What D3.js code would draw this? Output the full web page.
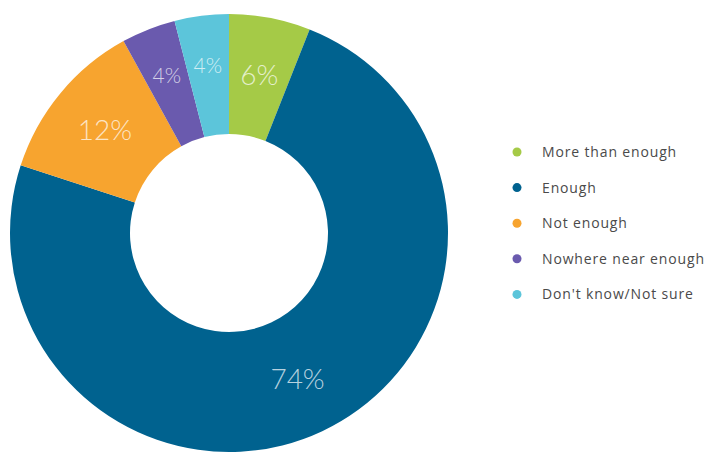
<!DOCTYPE html>
<html>
<head>
<meta charset="utf-8">
<script src="https://cdn.jsdelivr.net/npm/d3@7"></script>
<style>
  html, body { margin: 0; padding: 0; background: #ffffff; }
  svg { display: block; }
</style>
</head>
<body>
<svg id="chart" width="708" height="455"></svg>
<script>
// Survey answers, in drawing order starting from 12 o'clock, clockwise
const categories = ["More than enough", "Enough", "Not enough", "Nowhere near enough", "Don't know/Not sure"];
const shares = [6, 74, 12, 4, 4];
const sliceColors = ["#a5ca47", "#00628f", "#f7a42f", "#6a5aae", "#5cc5da"];

const svg = d3.select("#chart");
const cx = 229, cy = 233;
const outerR = 219, innerR = 99;

const pie = d3.pie().sort(null).value(d => d.value);
const arcs = pie(categories.map((c, i) => ({ name: c, value: shares[i], color: sliceColors[i] })));

const arc = d3.arc().innerRadius(innerR).outerRadius(outerR);
const g = svg.append("g").attr("transform", `translate(${cx},${cy})`);

g.selectAll("path.slice")
  .data(arcs)
  .join("path")
  .attr("class", "slice")
  .attr("d", arc)
  .attr("fill", d => d.data.color);

// Percentage labels sit at the middle of each ring segment; the narrow slices
// get a smaller type size and sit a little further out
const labelArc = d3.arc().innerRadius(innerR + 2).outerRadius(outerR + 2);
const narrowArc = d3.arc().innerRadius(innerR + 10).outerRadius(outerR + 10);
g.selectAll("text.pct")
  .data(arcs)
  .join("text")
  .attr("class", "pct")
  .attr("transform", d => {
    const p = (d.data.value < 5 ? narrowArc : labelArc).centroid(d);
    return `translate(${p[0]},${p[1]})`;
  })
  .attr("text-anchor", "middle")
  .attr("dy", "0.36em")
  .attr("font-family", "Lato, 'Open Sans', sans-serif")
  .attr("font-weight", 300)
  .attr("font-size", d => d.data.value < 5 ? 21 : 28)
  .attr("fill", "#ffffff")
  .attr("fill-opacity", 0.72)
  .text(d => d.data.value + "%");

// Legend
const legend = svg.append("g").attr("transform", "translate(517,152)");
const item = legend.selectAll("g.item")
  .data(arcs)
  .join("g")
  .attr("class", "item")
  .attr("transform", (d, i) => `translate(0,${i * 35.6})`);

item.append("circle")
  .attr("r", 4.5)
  .attr("fill", d => d.data.color);

item.append("text")
  .attr("x", 25)
  .attr("dy", "0.35em")
  .attr("font-family", "'Open Sans', sans-serif")
  .attr("font-size", 14)
  .attr("letter-spacing", "0.85px")
  .attr("fill", "#4a4a4a")
  .text(d => d.data.name);
</script>
</body>
</html>
